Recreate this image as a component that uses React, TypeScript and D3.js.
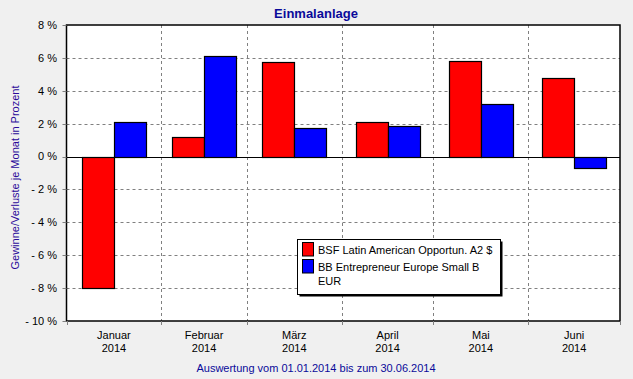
import React from "react";
import * as d3 from "d3";

const months = ["Januar", "Februar", "März", "April", "Mai", "Juni"];
const years = ["2014", "2014", "2014", "2014", "2014", "2014"];
const seriesNames = ["BSF Latin American Opportun. A2 $", "BB Entrepreneur Europe Small B EUR"];
const seriesA = [-7.98, 1.19, 5.75, 2.08, 5.81, 4.76];
const seriesB = [2.08, 6.09, 1.71, 1.84, 3.18, -0.72];
const yTicks = [8, 6, 4, 2, 0, -2, -4, -6, -8, -10];
const colors = ["#ff0000", "#0000ff"];

const W = 633, H = 379;
const L = 66.5, R = 620, T = 25, B = 321;

export default function App() {
  const start = new Date(Date.UTC(2014, 0, 1));
  const end = new Date(Date.UTC(2014, 6, 1));
  const x = d3.scaleUtc().domain([start, end]).range([L, R]);
  const y = d3.scaleLinear().domain([-10, 8]).range([B, T]);
  const bounds = d3.range(7).map((i) => new Date(Date.UTC(2014, i, 1)));
  const centers = months.map((_, i) => (x(bounds[i]) + x(bounds[i + 1])) / 2);
  const bw = 32;
  const font = "'Liberation Sans', Arial, sans-serif";
  const series = [seriesA, seriesB];
  const fs = 11;

  return (
    <svg width={W} height={H} style={{ position: "absolute", left: 0, top: 0 }} fontFamily={font}>
      <rect x={0} y={0} width={W} height={H} fill="#f0f0f0" />
      <rect x={L} y={T} width={R - L} height={B - T} fill="#ffffff" />
      {yTicks.filter((t) => t !== 8 && t !== -10 && t !== 0).map((t) => (
        <line key={"gy" + t} x1={L} x2={R} y1={Math.round(y(t)) + 0.5} y2={Math.round(y(t)) + 0.5}
          stroke="#808080" strokeDasharray="3,3" />
      ))}
      {bounds.slice(1, 6).map((d, i) => (
        <line key={"gx" + i} x1={Math.round(x(d)) + 0.5} x2={Math.round(x(d)) + 0.5} y1={T} y2={B}
          stroke="#808080" strokeDasharray="3,3" />
      ))}
      {series.map((s, si) =>
        s.map((v, i) => {
          const x0 = centers[i] - bw + si * bw;
          const y0 = y(Math.max(0, v));
          const y1 = y(Math.min(0, v));
          return (
            <rect key={"b" + si + "-" + i} x={Math.round(x0) + 0.5} y={Math.round(y0) + 0.5}
              width={bw} height={Math.round(y1) - Math.round(y0)}
              fill={colors[si]} stroke="#000" strokeWidth={1.2} />
          );
        })
      )}
      <line x1={L} x2={R} y1={Math.round(y(0)) + 0.5} y2={Math.round(y(0)) + 0.5} stroke="#000" />
      <rect x={L} y={T} width={R - L} height={B - T} fill="none" stroke="#000" strokeWidth={1.5} />
      {yTicks.map((t) => (
        <g key={"yt" + t}>
          <line x1={L - 4} x2={L} y1={Math.round(y(t)) + 0.5} y2={Math.round(y(t)) + 0.5} stroke="#808080" />
          <text x={57} y={y(t)} dy="0.35em" textAnchor="end" fontSize={fs} fill="#000">
            {t < 0 ? "- " + Math.abs(t) + " %" : t + " %"}
          </text>
        </g>
      ))}
      {bounds.map((d, i) => (
        <line key={"xt" + i} x1={Math.round(x(d)) + 0.5} x2={Math.round(x(d)) + 0.5} y1={B} y2={B + 4} stroke="#808080" />
      ))}
      {months.map((m, i) => (
        <g key={"xl" + i}>
          <text x={centers[i]} y={338.5} textAnchor="middle" fontSize={fs} fill="#000">{m}</text>
          <text x={centers[i]} y={352} textAnchor="middle" fontSize={fs} fill="#000">{years[i]}</text>
        </g>
      ))}
      <text x={316} y={17.5} textAnchor="middle" fontSize={13} fontWeight="bold" fill="#0a0a9a">Einmalanlage</text>
      <text transform={`translate(18.5,177.5) rotate(-90)`} textAnchor="middle" fontSize={fs} fill="#2a0a9a">
        Gewinne/Verluste je Monat in Prozent
      </text>
      <text x={316} y={372} textAnchor="middle" fontSize={fs} fill="#0a0a9a">
        Auswertung vom 01.01.2014 bis zum 30.06.2014
      </text>
      <rect x={299.5} y={241.5} width={203} height={55} fill="#000" />
      <rect x={297.5} y={239.5} width={203} height={55} fill="#fff" stroke="#000" />
      <rect x={302.5} y={242.5} width={11} height={13.5} fill={colors[0]} stroke="#000" />
      <rect x={302.5} y={259.5} width={11} height={13.5} fill={colors[1]} stroke="#000" />
      <text x={318} y={254} fontSize={fs} fill="#000">{seriesNames[0]}</text>
      <text x={318} y={271} fontSize={fs} fill="#000">BB Entrepreneur Europe Small B</text>
      <text x={318} y={285} fontSize={fs} fill="#000">EUR</text>
    </svg>
  );
}
